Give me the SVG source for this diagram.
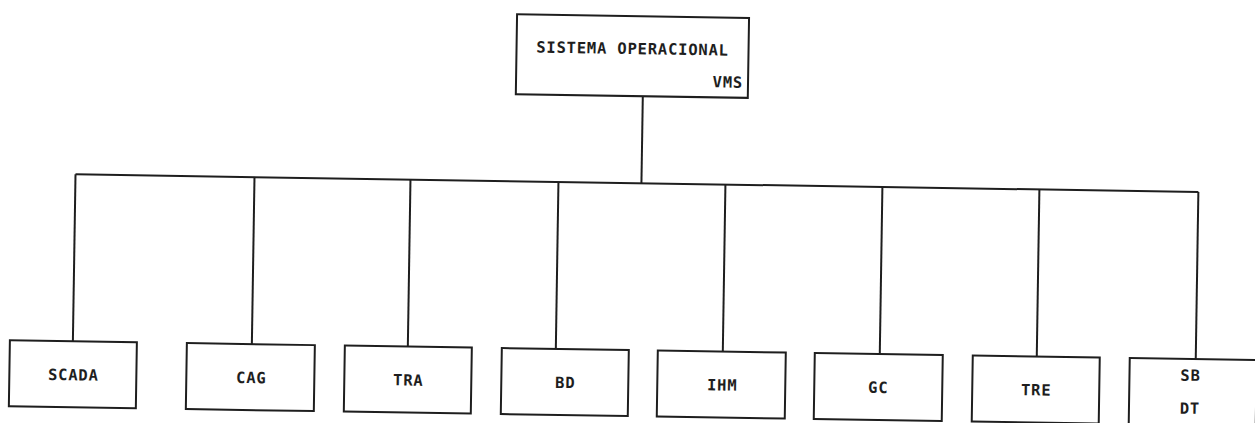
<svg xmlns="http://www.w3.org/2000/svg" width="1255" height="423" viewBox="0 0 1255 423">
<style>
.box{fill:#fff;stroke:#1e1e1e;stroke-width:2}
.ln{fill:none;stroke:#1e1e1e;stroke-width:2}
.t{font-family:"DejaVu Sans Mono","Liberation Mono",monospace;font-weight:bold;font-size:15.5px;letter-spacing:0.8px;fill:#1e1e1e}
.c{text-anchor:middle}
</style>
<rect width="1255" height="423" fill="#fff"/>
<g transform="rotate(0.9 627 211)">
<g id="connectors">
<line class="ln" x1="641" y1="96" x2="641" y2="183"/>
<line class="ln" x1="75" y1="183" x2="1198" y2="183"/>
<line class="ln" x1="75" y1="183" x2="75" y2="350"/>
<line class="ln" x1="254" y1="183" x2="254" y2="350"/>
<line class="ln" x1="410" y1="183" x2="410" y2="350"/>
<line class="ln" x1="558" y1="183" x2="558" y2="350"/>
<line class="ln" x1="725" y1="183" x2="725" y2="350"/>
<line class="ln" x1="882" y1="183" x2="882" y2="350"/>
<line class="ln" x1="1039" y1="183" x2="1039" y2="350"/>
<line class="ln" x1="1198" y1="183" x2="1198" y2="350"/>
</g>
<g id="vms">
<rect class="box" x="514" y="16" width="232" height="80"/>
<text class="t c" x="630" y="54">SISTEMA OPERACIONAL</text>
<text class="t" x="741" y="86" text-anchor="end">VMS</text>
</g>
<g id="scada">
<rect class="box" x="12" y="350" width="127" height="66"/>
<text class="t c" x="76" y="389">SCADA</text>
</g>
<g id="cag">
<rect class="box" x="189" y="350" width="128" height="66"/>
<text class="t c" x="254" y="389">CAG</text>
</g>
<g id="tra">
<rect class="box" x="347" y="350" width="127" height="66"/>
<text class="t c" x="411" y="389">TRA</text>
</g>
<g id="bd">
<rect class="box" x="504" y="350" width="127" height="66"/>
<text class="t c" x="568" y="389">BD</text>
</g>
<g id="ihm">
<rect class="box" x="660" y="350" width="128" height="66"/>
<text class="t c" x="725" y="389">IHM</text>
</g>
<g id="gc">
<rect class="box" x="817" y="350" width="128" height="66"/>
<text class="t c" x="881" y="389">GC</text>
</g>
<g id="tre">
<rect class="box" x="975" y="350" width="127" height="66"/>
<text class="t c" x="1039" y="389">TRE</text>
</g>
<g id="sbdt">
<rect class="box" x="1132" y="350" width="127" height="70"/>
<text class="t c" x="1193" y="372">SB</text>
<text class="t c" x="1193" y="405">DT</text>
</g>
</g>
</svg>
